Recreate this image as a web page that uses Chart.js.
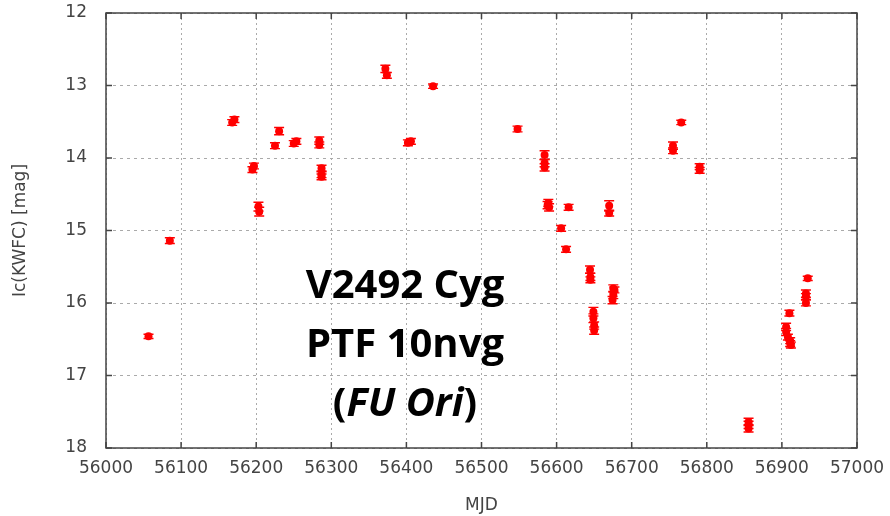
<!DOCTYPE html>
<html>
<head>
<meta charset="utf-8">
<script src="https://cdn.jsdelivr.net/npm/chart.js@4/dist/chart.umd.min.js"></script>
<style>
  html, body { margin: 0; padding: 0; background: #fff; }
  #wrap { width: 890px; height: 516px; }
</style>
</head>
<body>
<div id="wrap"><canvas id="lc" width="890" height="516"></canvas></div>
<script>
// light curve of V2492 Cyg
const mjd = [56056.6, 56085, 56168, 56171, 56195, 56197, 56203, 56204, 56225, 56230.5,
  56250, 56253.5, 56284, 56284, 56287, 56287, 56287, 56372, 56374, 56402,
  56406, 56435.5, 56548, 56584, 56584, 56584, 56589, 56590, 56588, 56606,
  56612.6, 56616, 56670, 56670, 56644.5, 56645, 56645, 56649, 56649, 56650,
  56650, 56675.5, 56677, 56675.5, 56674.5, 56766, 56755, 56755, 56790.5, 56790.5,
  56855.6, 56855.6, 56855.6, 56910, 56905.6, 56905.6, 56908, 56911, 56912, 56911,
  56934.4, 56932, 56932, 56932];
const mag = [16.46, 15.14, 13.51, 13.47, 14.16, 14.11, 14.67, 14.74, 13.83, 13.63,
  13.80, 13.77, 13.76, 13.82, 14.14, 14.23, 14.26, 12.77, 12.86, 13.79,
  13.77, 13.01, 13.60, 13.96, 14.07, 14.13, 14.62, 14.68, 14.65, 14.97,
  15.26, 14.68, 14.66, 14.76, 15.54, 15.64, 15.68, 16.12, 16.21, 16.31,
  16.38, 15.80, 15.82, 15.89, 15.96, 13.51, 13.83, 13.90, 14.12, 14.17,
  17.64, 17.68, 17.73, 16.14, 16.33, 16.40, 16.47, 16.52, 16.58, 16.56,
  15.66, 15.87, 15.91, 16.00];
const magErr = [0.03, 0.04, 0.04, 0.04, 0.04, 0.04, 0.06, 0.06, 0.04, 0.05,
  0.04, 0.04, 0.05, 0.04, 0.04, 0.04, 0.04, 0.05, 0.04, 0.04,
  0.04, 0.03, 0.04, 0.06, 0.05, 0.05, 0.05, 0.05, 0.05, 0.04,
  0.04, 0.04, 0.07, 0.04, 0.05, 0.05, 0.04, 0.06, 0.06, 0.05,
  0.05, 0.05, 0.04, 0.05, 0.05, 0.03, 0.05, 0.04, 0.04, 0.04,
  0.05, 0.05, 0.05, 0.04, 0.05, 0.05, 0.04, 0.04, 0.04, 0.04,
  0.03, 0.05, 0.04, 0.04];
const xTicks = [56000, 56100, 56200, 56300, 56400, 56500, 56600, 56700, 56800, 56900, 57000];
const yTicks = [12, 13, 14, 15, 16, 17, 18];

const points = mjd.map((x, i) => ({ x: x, y: mag[i], e: magErr[i] }));
const red = "#ff0000";
const axisGray = "#444444";
const tickFont = { family: "DejaVu Sans", size: 17 };

// error bars with caps, drawn through the scales
const errorBars = {
  id: "errorBars",
  beforeDatasetsDraw(chart) {
    const { ctx, scales } = chart;
    ctx.save();
    ctx.strokeStyle = red;
    ctx.lineWidth = 1.4;
    points.forEach((p) => {
      const px = scales.x.getPixelForValue(p.x);
      const top = scales.y.getPixelForValue(p.y - p.e);
      const bot = scales.y.getPixelForValue(p.y + p.e);
      ctx.beginPath();
      ctx.moveTo(px, top);
      ctx.lineTo(px, bot);
      ctx.moveTo(px - 5, top);
      ctx.lineTo(px + 5, top);
      ctx.moveTo(px - 5, bot);
      ctx.lineTo(px + 5, bot);
      ctx.stroke();
    });
    ctx.restore();
  },
};

// frame with inward tick marks (gnuplot look) and the object label
const frameAndLabel = {
  id: "frameAndLabel",
  afterDraw(chart) {
    const { ctx, chartArea: a, scales } = chart;
    ctx.save();
    ctx.strokeStyle = axisGray;
    ctx.lineWidth = 1.5;
    ctx.strokeRect(a.left, a.top, a.right - a.left, a.bottom - a.top);
    ctx.beginPath();
    xTicks.forEach((v) => {
      const px = scales.x.getPixelForValue(v);
      ctx.moveTo(px, a.bottom); ctx.lineTo(px, a.bottom - 6);
      ctx.moveTo(px, a.top); ctx.lineTo(px, a.top + 6);
    });
    yTicks.forEach((v) => {
      const py = scales.y.getPixelForValue(v);
      ctx.moveTo(a.left, py); ctx.lineTo(a.left + 6, py);
      ctx.moveTo(a.right, py); ctx.lineTo(a.right - 6, py);
    });
    ctx.stroke();

    ctx.fillStyle = "#000";
    ctx.textBaseline = "alphabetic";
    const cx = 405;
    const bold = "bold 40px 'Open Sans'";
    const boldIt = "italic bold 40px 'Open Sans'";
    ctx.font = bold;
    ctx.textAlign = "center";
    ctx.fillText("V2492 Cyg", cx, 298);
    ctx.fillText("PTF 10nvg", cx, 357);
    // third line mixes upright and italic pieces
    const parts = [["(", bold], ["FU Ori", boldIt], [")", bold]];
    let total = 0;
    parts.forEach(([t, f]) => { ctx.font = f; total += ctx.measureText(t).width; });
    let x = cx - total / 2;
    ctx.textAlign = "left";
    parts.forEach(([t, f]) => {
      ctx.font = f;
      ctx.fillText(t, x, 416);
      x += ctx.measureText(t).width;
    });
    ctx.restore();
  },
};

new Chart(document.getElementById("lc"), {
  type: "scatter",
  data: {
    datasets: [{
      data: points,
      backgroundColor: red,
      borderColor: red,
      pointRadius: 4,
      pointHoverRadius: 4,
      pointBorderWidth: 0,
    }],
  },
  options: {
    responsive: false,
    animation: false,
    layout: { padding: { top: 13, right: 33, left: 0, bottom: 0 } },
    plugins: { legend: { display: false }, tooltip: { enabled: false } },
    scales: {
      x: {
        type: "linear",
        min: 56000,
        max: 57000,
        afterBuildTicks: (s) => { s.ticks = xTicks.map((v) => ({ value: v })); },
        afterFit: (s) => { s.height = 68; s.paddingLeft = 0; s.paddingRight = 0; },
        ticks: { color: axisGray, font: tickFont, padding: 10, maxRotation: 0, callback: (v) => String(v) },
        grid: { color: "#aaaaaa", lineWidth: 1, drawTicks: false },
        border: { display: false, dash: [2, 3] },
        title: { display: true, text: "MJD", color: axisGray, font: tickFont, padding: { top: 8, bottom: 0 } },
      },
      y: {
        type: "linear",
        reverse: true,
        min: 12,
        max: 18,
        afterBuildTicks: (s) => { s.ticks = yTicks.map((v) => ({ value: v })); },
        afterFit: (s) => { s.width = 106; s.paddingTop = 0; s.paddingBottom = 0; },
        ticks: { color: axisGray, font: tickFont, padding: 19, callback: (v) => String(v) },
        grid: { color: "#aaaaaa", lineWidth: 1, drawTicks: false },
        border: { display: false, dash: [3, 4] },
        title: { display: true, text: "Ic(KWFC) [mag]", color: axisGray, font: tickFont, padding: { top: 10, bottom: 0 } },
      },
    },
  },
  plugins: [errorBars, frameAndLabel],
});
</script>
</body>
</html>
